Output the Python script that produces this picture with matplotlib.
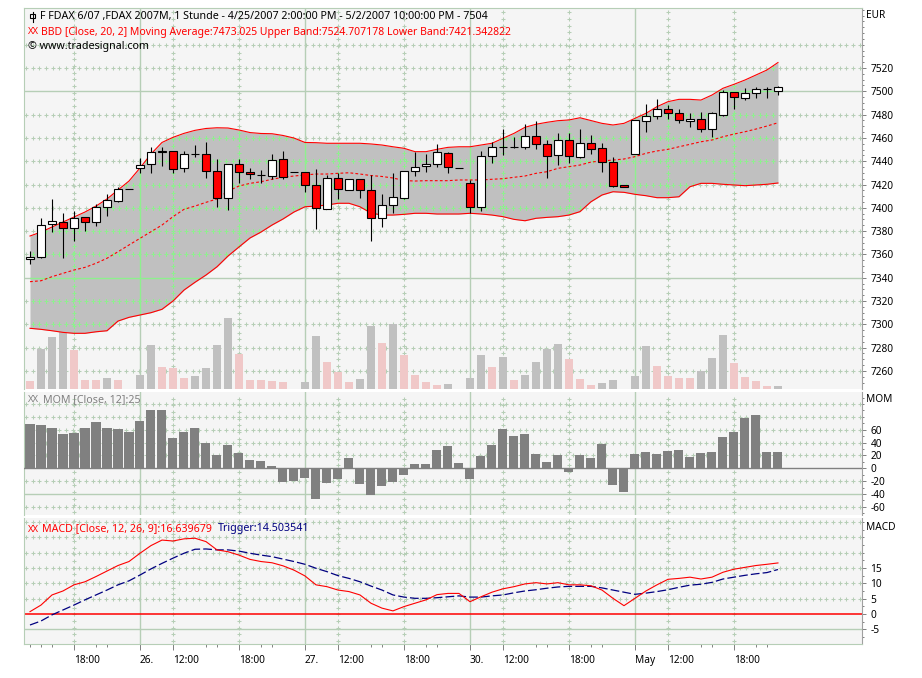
import numpy as np
import matplotlib
matplotlib.use("Agg")
import matplotlib.pyplot as plt
from matplotlib.patches import Rectangle
from matplotlib.lines import Line2D

plt.rcParams['font.family'] = ['Noto Sans', 'DejaVu Sans']
plt.rcParams['font.size'] = 7.3
plt.rcParams['axes.unicode_minus'] = False

# FDAX 6/07, hourly bars 4/25/2007 14:00 .. 5/2/2007 22:00
opens = [7356.0, 7357.5, 7385.8, 7387.5, 7382.4, 7391.8, 7387.5, 7400.4, 7405.6, 7415.9,
         7433.9, 7437.3, 7448.0, 7448.5, 7433.9, 7446.0, 7445.9, 7431.3, 7408.2, 7437.3,
         7430.5, 7428.2, 7427.6, 7441.6, 7430.7, 7430.5, 7419.3, 7399.3, 7425.3, 7415.0,
         7424.5, 7415.0, 7391.0, 7402.1, 7408.7, 7431.3, 7435.6, 7437.3, 7446.8, 7433.9,
         7421.0, 7400.4, 7444.7, 7452.0, 7451.9, 7452.5, 7461.6, 7454.5, 7445.6, 7458.2,
         7443.9, 7455.4, 7451.1, 7439.1, 7419.3, 7445.9, 7474.8, 7478.5, 7484.5, 7481.1,
         7474.2, 7476.2, 7467.4, 7479.7, 7499.1, 7494.5, 7498.3, 7501.7, 7500.0]
highs = [7363.2, 7391.0, 7407.6, 7395.3, 7397.5, 7392.5, 7403.0, 7411.8, 7418.1, 7415.9,
         7442.5, 7451.9, 7451.9, 7449.0, 7448.8, 7453.9, 7456.7, 7441.6, 7437.5, 7441.6,
         7434.4, 7432.4, 7446.2, 7448.8, 7430.7, 7430.5, 7433.0, 7428.2, 7429.6, 7424.5,
         7424.5, 7428.2, 7411.8, 7429.6, 7431.6, 7447.6, 7446.2, 7454.8, 7448.2, 7433.9,
         7423.9, 7448.8, 7456.7, 7467.6, 7461.0, 7471.9, 7474.5, 7458.0, 7464.6, 7464.0,
         7467.4, 7462.5, 7455.4, 7443.4, 7419.3, 7475.1, 7488.8, 7493.4, 7488.2, 7484.8,
         7481.1, 7482.0, 7482.0, 7501.0, 7499.5, 7502.6, 7504.0, 7504.0, 7504.8]
lows = [7351.8, 7356.6, 7379.5, 7356.6, 7371.8, 7380.3, 7384.4, 7393.2, 7405.0, 7415.9,
        7429.6, 7430.1, 7436.1, 7430.1, 7431.0, 7443.9, 7425.3, 7400.4, 7398.1, 7421.0,
        7424.7, 7421.0, 7424.7, 7424.7, 7430.7, 7413.8, 7381.8, 7399.0, 7407.6, 7415.0,
        7408.2, 7371.8, 7383.8, 7395.3, 7407.6, 7427.6, 7431.0, 7435.3, 7429.6, 7433.9,
        7395.3, 7397.5, 7438.7, 7445.3, 7451.0, 7450.5, 7450.5, 7425.8, 7436.7, 7438.7,
        7443.0, 7445.9, 7431.0, 7418.1, 7417.6, 7445.9, 7465.3, 7476.0, 7476.0, 7473.0,
        7469.6, 7465.3, 7461.0, 7478.8, 7484.8, 7492.5, 7494.5, 7494.5, 7496.8]
closes = [7358.0, 7385.0, 7388.7, 7382.4, 7391.0, 7387.8, 7400.4, 7406.4, 7415.9, 7415.9,
          7436.5, 7447.6, 7448.5, 7433.0, 7445.9, 7446.0, 7431.3, 7408.2, 7437.3, 7430.5,
          7429.0, 7428.2, 7441.0, 7426.7, 7430.7, 7419.3, 7399.6, 7425.3, 7415.9, 7424.5,
          7415.0, 7391.0, 7402.1, 7409.0, 7431.6, 7434.8, 7437.6, 7447.6, 7434.8, 7433.9,
          7400.4, 7444.2, 7451.9, 7452.5, 7451.9, 7461.6, 7454.5, 7444.7, 7458.2, 7444.7,
          7455.4, 7450.8, 7439.1, 7419.0, 7417.6, 7475.1, 7478.5, 7484.5, 7481.1, 7475.1,
          7476.2, 7467.4, 7481.1, 7499.1, 7495.4, 7498.3, 7501.7, 7501.7, 7504.0]
volume = [2000, 10000, 13000, 16500, 9750, 2250, 2250, 2750, 2250, 0,
          3500, 11000, 5500, 5250, 2750, 3250, 5250, 11000, 17750, 8750,
          2250, 2250, 2000, 1750, 0, 1750, 13250, 6750, 4250, 1750,
          2500, 15750, 11500, 16250, 8500, 3500, 1750, 1000, 1250, 0,
          2750, 8500, 5500, 8000, 2250, 3500, 6750, 10000, 11250, 7500,
          2500, 1000, 1500, 2250, 0, 3250, 10750, 5750, 3250, 2750,
          2750, 4500, 7750, 13500, 6500, 3000, 2000, 700, 750]
bb_upper = [7375.8, 7379.2, 7383.5, 7387.8, 7392.1, 7396.4, 7401.5, 7407.6, 7415.3, 7423.0,
            7434.2, 7446.2, 7456.1, 7460.5, 7463.9, 7466.5, 7468.1, 7468.7, 7468.5, 7466.8,
            7464.6, 7463.8, 7463.6, 7462.1, 7459.9, 7456.1, 7455.9, 7455.4, 7455.4, 7455.4,
            7455.4, 7454.8, 7453.9, 7452.4, 7451.1, 7448.2, 7448.2, 7450.2, 7451.9, 7452.4,
            7452.4, 7453.9, 7455.4, 7459.7, 7463.9, 7469.1, 7471.7, 7473.4, 7474.8, 7475.4,
            7477.3, 7474.9, 7472.5, 7471.1, 7472.5, 7476.8, 7481.1, 7486.8, 7491.1, 7493.1,
            7493.1, 7492.5, 7496.8, 7502.6, 7506.0, 7509.7, 7514.0, 7518.3, 7524.7]
bb_mid = [7336.6, 7337.4, 7340.9, 7343.8, 7346.6, 7348.9, 7352.4, 7356.7, 7362.3, 7368.1,
          7373.8, 7379.5, 7385.2, 7392.4, 7398.7, 7401.5, 7404.7, 7407.6, 7414.4, 7418.7,
          7421.0, 7422.4, 7424.5, 7426.2, 7427.3, 7428.2, 7429.0, 7429.0, 7429.6, 7430.1,
          7429.0, 7427.7, 7426.9, 7425.6, 7423.4, 7423.0, 7423.3, 7423.3, 7423.3, 7423.9,
          7423.9, 7423.9, 7424.5, 7425.0, 7426.2, 7427.3, 7429.6, 7431.0, 7433.9, 7435.3,
          7436.7, 7439.3, 7440.2, 7441.0, 7441.9, 7443.9, 7446.8, 7448.8, 7450.2, 7452.4,
          7454.5, 7456.7, 7458.2, 7461.0, 7463.3, 7465.3, 7467.6, 7470.2, 7473.0]
bb_lower = [7296.6, 7295.7, 7294.5, 7293.1, 7292.3, 7292.3, 7293.6, 7294.5, 7302.8, 7306.0,
            7308.0, 7310.0, 7312.9, 7320.0, 7329.4, 7336.1, 7342.3, 7349.4, 7358.6, 7366.4,
            7374.1, 7379.2, 7385.2, 7390.4, 7396.4, 7400.9, 7401.5, 7402.4, 7403.9, 7403.9,
            7400.9, 7395.5, 7393.8, 7393.8, 7394.4, 7395.3, 7395.3, 7394.7, 7394.7, 7394.7,
            7395.3, 7394.7, 7393.8, 7392.4, 7390.1, 7388.9, 7391.0, 7391.8, 7392.4, 7393.8,
            7396.7, 7405.2, 7411.0, 7413.8, 7413.3, 7411.6, 7410.4, 7408.7, 7408.7, 7409.5,
            7418.1, 7421.0, 7421.0, 7420.2, 7419.6, 7419.0, 7419.6, 7420.2, 7421.3]
mom = [69, 67.4, 63.3, 53.4, 55, 63.3, 72.1, 63.3, 61.7, 57,
       74.2, 90.8, 90.8, 47.7, 56.5, 63.3, 39.9, 21.2, 36.8, 24.3,
       13.4, 11.8, 4.1, -20.9, -19.3, -14.6, -47.4, -22.4, -16.2, 16.5,
       -24, -41.1, -27.1, -20.9, -10, 6.7, 6.7, 28.5, 34.7, 8.3,
       -16.2, 19.6, 36.3, 61.2, 50.3, 53.4, 22.3, 9.8, 20.7, -5.3,
       20.7, 16, 37.9, -25.5, -36.4, 22.3, 25.4, 22.3, 26.9, 28.5,
       17.6, 23.8, 25.4, 48.8, 56.5, 78.3, 83, 25.4, 25]
macd = [0.75, 2.9, 6.2, 7.5, 9.5, 10.5, 12.2, 14.0, 15.8, 17.1,
        19.8, 22.3, 24.1, 23.8, 24.5, 24.7, 23.6, 20.9, 20.3, 19.2,
        17.8, 17.1, 16.7, 15.7, 14.3, 12.4, 9.5, 8.9, 7.8, 7.3,
        6.2, 3.5, 1.9, 1.0, 2.4, 3.5, 4.6, 6.3, 6.7, 6.7,
        4.0, 5.6, 7.1, 8.2, 8.9, 9.8, 10.2, 9.8, 10.2, 9.5,
        9.5, 9.2, 7.8, 5.1, 2.7, 5.1, 7.5, 9.5, 11.3, 11.6,
        12.0, 11.4, 12.0, 13.6, 14.6, 15.2, 15.8, 16.2, 16.64]
trigger = [-3.6, -2.3, -0.3, 1.3, 2.9, 4.6, 6.2, 7.8, 9.5, 10.8,
           12.7, 14.7, 16.5, 18.2, 19.8, 21.1, 21.2, 20.9, 20.9, 20.5,
           19.8, 19.2, 18.7, 17.9, 17.1, 16.2, 14.9, 13.8, 12.5, 11.6,
           10.5, 9.1, 7.8, 6.2, 5.5, 5.1, 5.1, 5.3, 5.6, 5.9,
           5.5, 5.5, 5.9, 6.2, 6.9, 7.5, 7.9, 8.4, 8.8, 9.0,
           9.0, 9.0, 8.5, 7.8, 7.1, 6.4, 6.8, 7.3, 7.9, 8.7,
           9.4, 9.7, 10.3, 11.4, 12.0, 12.6, 13.1, 13.5, 14.5]

# time axis (bar index of each label)
day_ticks = [10, 25, 40, 55]
day_labels = ['26.', '27.', '30.', 'May']
hour_ticks = [4, 13, 19, 28, 34, 43, 49, 58, 64]
hour_labels = ['18:00', '12:00', '18:00', '12:00', '18:00', '12:00', '18:00', '12:00', '18:00']
minor_ticks = [0, 1, 2, 6, 7, 16, 17, 21, 22, 31, 32, 36, 37, 46, 47, 51, 52, 61, 62, 66, 67]

price_labels = list(range(7260, 7521, 20))
price_dotted = [7260, 7280, 7300, 7320, 7360, 7380, 7400, 7420, 7440, 7460, 7480, 7520, 7540]
price_solid = [7500, 7340]
mom_labels = list(range(-60, 61, 20))
mom_dotted = [100, 80, 60, 40, 20, -20, -60]
mom_solid = [-40]
macd_labels = [-5, 0, 5, 10, 15]
macd_dotted = [30, 25, 20, 15, 10, 5]
macd_solid = [-5]

title_main = "F FDAX 6/07 ,FDAX 2007M, 1 Stunde - 4/25/2007 2:00:00 PM - 5/2/2007 10:00:00 PM - 7504"
bb_text = "BBD [Close, 20, 2] Moving Average:7473.025 Upper Band:7524.707178 Lower Band:7421.342822"
copy_text = "\u00a9 www.tradesignal.com"
mom_text = "MOM [Close, 12]:25"
macd_text = "MACD [Close, 12, 26, 9]:16.639679"
trig_text = "Trigger:14.503541"

n = len(closes)
x = np.arange(n)

W, H = 922, 678
L, R = 24, 862
SAGE = '#b6ceb6'
LIME = '#8ef08e'
BG = '#f5f5f5'
STEP = 6.67
HEAD = 7.7


def box(top, bottom):
    return [L / W, 1 - bottom / H, (R - L) / W, (bottom - top) / H]


def fx(px):
    return px / W


def fy(py):
    return 1 - py / H


def grid(ax, tr, hy, vx, hs, vs, height, color, z, clip=None):
    xs = np.arange(2, R - L, STEP) / (R - L)
    ys = np.arange(3, height, STEP) / height
    arts = []
    a, = ax.plot(np.tile(xs, len(hy)), np.repeat(hy, len(xs)), ls='none', marker='+',
                 ms=2.3, mew=0.75, color=color, zorder=z, transform=tr.get_yaxis_transform())
    arts.append(a)
    a, = ax.plot(np.repeat(vx, len(ys)), np.tile(ys, len(vx)), ls='none', marker='+',
                 ms=2.3, mew=0.75, color=color, zorder=z, transform=tr.get_xaxis_transform())
    arts.append(a)
    for yv in hs:
        a, = ax.plot([0, 1], [yv, yv], color=color, lw=1, zorder=z, transform=tr.get_yaxis_transform())
        arts.append(a)
    for xv in vs:
        a, = ax.plot([xv, xv], [0, 1], color=color, lw=1, zorder=z, transform=tr.get_xaxis_transform())
        arts.append(a)
    if clip is not None:
        for a in arts:
            a.set_clip_path(clip, tr.transData)
    return arts


def style(ax, top=False, bottom=False):
    for s in ['top', 'bottom', 'left']:
        ax.spines[s].set_color(SAGE)
    ax.spines['top'].set_visible(top)
    ax.spines['bottom'].set_visible(bottom)
    ax.spines['right'].set_color('#a0a0a0')
    ax.yaxis.tick_right()
    ax.tick_params(axis='y', which='major', length=3, width=0.7, color='#808080', pad=3)
    ax.tick_params(axis='y', which='minor', length=1.5, width=0.7, color='#808080')
    ax.set_xlim(-0.545, 75.64)


fig = plt.figure(figsize=(W / 100, H / 100), dpi=100)

# price panel: volume underlay + candles on top
ax_v = fig.add_axes(box(8, 389))
ax_p = ax_v.twinx()
ax_v.patch.set_facecolor(BG)
for s in ax_v.spines.values():
    s.set_visible(False)
ax_v.set_yticks([])
ax_v.tick_params(axis='x', which='both', bottom=False, labelbottom=False)
ax_p.tick_params(axis='x', which='both', bottom=False, labelbottom=False)
p_lo, p_hi = 7244.5, 7571.5
vol_top = 381 * 250

grid(ax_v, ax_p, price_dotted, hour_ticks, price_solid, day_ticks, 381, SAGE, 1)
vcol = ['#c0c0c0' if i > 0 and volume[i] > volume[i - 1] else '#f0c8c8' for i in range(n)]
ax_v.bar(x, volume, width=0.72, color=vcol, zorder=2)
ax_v.set_ylim(0, vol_top)

band = ax_p.fill_between(x, bb_lower, bb_upper, color='#c0c0c0', lw=0, zorder=1)
band_path = band.get_paths()[0]
grid(ax_p, ax_p, price_dotted, hour_ticks, price_solid, day_ticks, 381, LIME, 1.5, clip=band_path)
ax_p.plot(x, bb_upper, color='red', lw=0.8, zorder=3)
ax_p.plot(x, bb_lower, color='red', lw=0.8, zorder=3)
ax_p.plot(x, bb_mid, color='red', lw=0.8, dashes=(2.5, 2), zorder=3)
for i in range(n):
    o, h, l, c = opens[i], highs[i], lows[i], closes[i]
    ax_p.vlines(i, l, h, color='black', lw=0.8, zorder=4)
    ax_p.add_patch(Rectangle((i - 0.36, min(o, c)), 0.72, abs(c - o),
                             facecolor='white' if c >= o else 'red',
                             edgecolor='black', lw=0.8, zorder=5))
style(ax_p, top=True)
ax_p.set_yticks(price_labels)
ax_p.set_yticks(np.arange(7250, 7571, 5), minor=True)
ax_p.set_ylim(p_lo, p_hi)
ax_v.set_xlim(-0.545, 75.64)

# momentum panel
ax_m = fig.add_axes(box(392, 515))
ax_m.set_facecolor(BG)
grid(ax_m, ax_m, mom_dotted, hour_ticks, mom_solid, day_ticks, 123, SAGE, 0.5)
ax_m.bar(x, mom, width=0.82, color='#808080', zorder=2)
ax_m.axhline(0, color='#808080', lw=1, zorder=3)
style(ax_m)
ax_m.tick_params(axis='x', which='both', bottom=False, labelbottom=False)
ax_m.set_yticks(mom_labels)
ax_m.set_yticks(np.arange(-70, 120, 10), minor=True)
ax_m.set_ylim(-72.7, 118.8)

# MACD panel
ax_c = fig.add_axes(box(518, 644))
ax_c.set_facecolor(BG)
grid(ax_c, ax_c, macd_dotted, hour_ticks, macd_solid, day_ticks, 126, SAGE, 0.5)
ax_c.axhline(0, color='red', lw=1.1, zorder=2)
ax_c.plot(x, trigger, color='#000080', lw=0.9, dashes=(7, 2.5), zorder=3)
ax_c.plot(x, macd, color='red', lw=0.8, zorder=4)
style(ax_c, bottom=True)
ax_c.set_yticks(macd_labels)
ax_c.set_yticks(np.arange(-7.5, 31, 2.5), minor=True)
ax_c.set_ylim(-9.8, 31.3)
ticks = day_ticks + hour_ticks
labels = day_labels + hour_labels
order = np.argsort(ticks)
ax_c.set_xticks([ticks[k] for k in order], [labels[k] for k in order])
ax_c.set_xticks(minor_ticks, minor=True)
ax_c.tick_params(axis='x', which='major', length=4, width=0.7, color='#808080', pad=4)
ax_c.tick_params(axis='x', which='minor', length=2, width=0.7, color='#808080')
for t in ax_c.get_xticklabels():
    t.set_ha('left')
ax_c.set_xlim(-0.545, 75.64)

# header texts
fig.add_artist(Line2D([fx(32.5), fx(32.5)], [fy(11.5), fy(21.5)], color='black', lw=0.8))
fig.add_artist(Rectangle((fx(30.3), fy(18)), fx(4.4), 4.5 / H, transform=fig.transFigure,
                         facecolor='white', edgecolor='black', lw=0.8))
fig.text(fx(40), fy(17), title_main, va='center', color='black', fontsize=HEAD)
fig.text(fx(28), fy(32), 'XX', va='center', color='red', fontsize=6.8)
fig.text(fx(41), fy(32), bb_text, va='center', color='red', fontsize=7.5)
fig.text(fx(28), fy(47), copy_text, va='center', color='black', fontsize=HEAD)
fig.text(fx(28), fy(400), 'XX', va='center', color='#808080', fontsize=6.8)
fig.text(fx(43), fy(400), mom_text, va='center', color='#808080', fontsize=HEAD)
fig.text(fx(28), fy(529), 'XX', va='center', color='red', fontsize=6.8)
fig.text(fx(42), fy(529), macd_text, va='center', color='red', fontsize=HEAD)
fig.text(fx(218), fy(529), trig_text, va='center', color='#000080', fontsize=HEAD)
fig.text(fx(866), fy(16), 'EUR', va='center')
fig.text(fx(866), fy(400), 'MOM', va='center')
fig.text(fx(866), fy(528), 'MACD', va='center')

fig.savefig('out.png', dpi=100, facecolor='white')
